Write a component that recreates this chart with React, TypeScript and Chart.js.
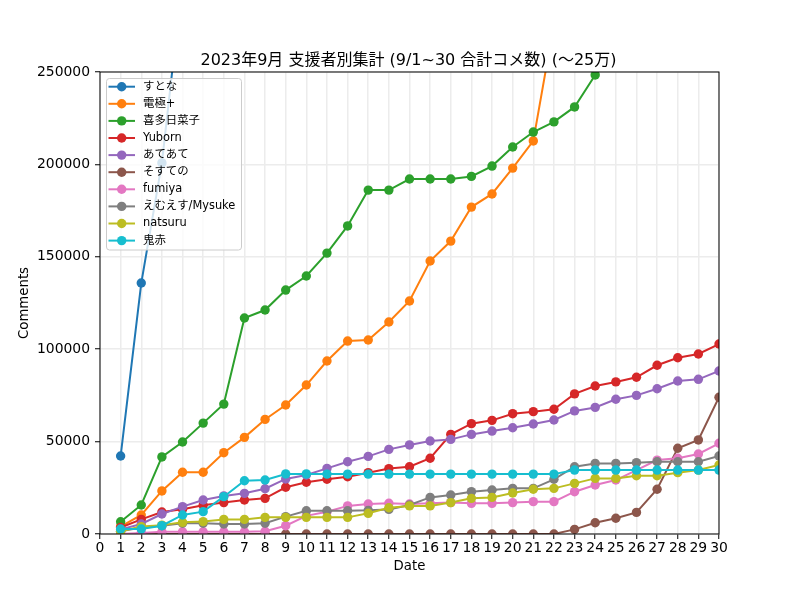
import { useEffect, useRef } from "react";
import { Chart, registerables } from "chart.js";

Chart.register(...registerables);

const FONT = '"DejaVu Sans", "Noto Sans CJK JP", sans-serif';

const chartTitle = "2023年9月 支援者別集計 (9/1~30 合計コメ数) (〜25万)";
const xAxisTitle = "Date";
const yAxisTitle = "Comments";

const days = [1, 2, 3, 4, 5, 6, 7, 8, 9, 10, 11, 12, 13, 14, 15, 16, 17, 18, 19, 20, 21, 22, 23, 24, 25, 26, 27, 28, 29, 30];

const seriesNames = ["すとな", "電極+", "喜多日菜子", "Yuborn", "あてあて", "そすての", "fumiya", "えむえす/Mysuke", "natsuru", "鬼赤"];
const seriesColors = ["#1f77b4", "#ff7f0e", "#2ca02c", "#d62728", "#9467bd", "#8c564b", "#e377c2", "#7f7f7f", "#bcbd22", "#17becf"];

const sutona = [42200, 135800, 200800, 300000, 360000, 420000, 470000, 520000, 570000, 610000, 650000, 690000, 730000, 770000, 800000, 840000, 880000, 910000, 950000, 990000, 1020000, 1060000, 1100000, 1140000, 1170000, 1210000, 1250000, 1290000, 1320000, 1360000];
const denkyoku = [4000, 10300, 23300, 33400, 33400, 44000, 52300, 62000, 69800, 80600, 93600, 104400, 105000, 114700, 126100, 147700, 158500, 176900, 184000, 198000, 212700, 276000, 300000, 320000, 345000, 365000, 385000, 405000, 425000, 445000];
const kita = [6600, 15700, 41700, 49800, 60000, 70300, 116900, 121200, 132000, 139600, 152000, 166700, 186100, 186100, 192100, 192100, 192100, 193500, 199100, 209400, 217500, 223000, 231100, 248400, 265000, 280000, 295000, 310000, 325000, 340000];
const yuborn = [3500, 7900, 11900, 13400, 15500, 17000, 18400, 19300, 25300, 28000, 29600, 31000, 33200, 35400, 36400, 41000, 53900, 59700, 61500, 65100, 66200, 67500, 75800, 80100, 82300, 84800, 91300, 95400, 97400, 102800];
const ateate = [2500, 5400, 10800, 14800, 18400, 20600, 22000, 24500, 29800, 31900, 35500, 39100, 42000, 45800, 48200, 50300, 51200, 53900, 55700, 57500, 59500, 61700, 66600, 68500, 72900, 75000, 78600, 82800, 83700, 88200];
const sosuteno = [0, 0, 0, 0, 0, 0, 0, 0, 0, 0, 0, 0, 0, 0, 0, 0, 0, 0, 0, 0, 0, 0, 2500, 6100, 8500, 11700, 24200, 46400, 50900, 74000];
const fumiya = [0, 600, 1200, 1200, 1200, 1200, 1200, 1500, 4500, 9800, 12000, 15200, 16200, 16600, 16200, 16600, 17000, 16600, 16600, 17000, 17500, 17500, 22900, 26500, 29200, 34600, 40000, 41000, 43300, 49100];
const mysuke = [1500, 3500, 4500, 5800, 5800, 5400, 5400, 5800, 9400, 12600, 12600, 12600, 12800, 13300, 15700, 19800, 21100, 22900, 23800, 24700, 24700, 29600, 36400, 38200, 38200, 38600, 39100, 39100, 39100, 42200];
const natsuru = [1500, 4000, 4800, 6300, 6700, 7900, 7900, 9000, 9000, 9000, 9000, 9000, 11200, 14200, 15200, 15200, 17000, 19300, 19800, 22200, 24200, 24700, 27400, 30100, 30100, 31500, 31500, 33200, 34600, 37300];
const onisaki = [2700, 2700, 4500, 10300, 12100, 20200, 28800, 29200, 32500, 32500, 32400, 32400, 32400, 32400, 32400, 32400, 32400, 32400, 32400, 32400, 32400, 32400, 34600, 34600, 34600, 34600, 34600, 34600, 34600, 34600];

const seriesValues = [sutona, denkyoku, kita, yuborn, ateate, sosuteno, fumiya, mysuke, natsuru, onisaki];

const yTicks = [0, 50000, 100000, 150000, 200000, 250000];

export default function App() {
  const canvasRef = useRef<HTMLCanvasElement>(null);

  useEffect(() => {
    const canvas = canvasRef.current;
    if (!canvas) return;

    const datasets = seriesNames.map((name, i) => ({
      label: name,
      data: days.map((d, j) => ({ x: d, y: seriesValues[i][j] })),
      borderColor: seriesColors[i],
      backgroundColor: seriesColors[i],
      pointBackgroundColor: seriesColors[i],
      pointBorderColor: seriesColors[i],
      pointBorderWidth: 0,
      pointRadius: 4.7,
      pointHoverRadius: 4.7,
      borderWidth: 2,
      tension: 0,
      order: -i,
    }));

    const overlayPlugin = {
      id: "overlay",
      afterDatasetsDraw(chart: any) {
        const { ctx, chartArea: a } = chart;
        ctx.save();
        ctx.strokeStyle = "#000";
        ctx.lineWidth = 1;
        ctx.strokeRect(a.left, a.top, a.right - a.left, a.bottom - a.top);
        ctx.restore();
      },
      afterDraw(chart: any) {
        const { ctx, chartArea: a } = chart;
        ctx.save();
        // title
        ctx.fillStyle = "#000";
        ctx.font = `16px ${FONT}`;
        ctx.textAlign = "center";
        ctx.textBaseline = "alphabetic";
        ctx.fillText(chartTitle, (a.left + a.right) / 2 - 1, 64.5);

        // legend
        const bx = a.left + 6.5;
        const by = a.top + 6.5;
        const bw = 135;
        const bh = 171.5;
        ctx.beginPath();
        ctx.roundRect(bx, by, bw, bh, 3);
        ctx.fillStyle = "rgba(255,255,255,0.8)";
        ctx.fill();
        ctx.strokeStyle = "#cccccc";
        ctx.lineWidth = 1;
        ctx.stroke();

        ctx.font = `11.4px ${FONT}`;
        ctx.textAlign = "left";
        ctx.textBaseline = "middle";
        seriesNames.forEach((name, i) => {
          const cy = a.top + 14.7 + i * 17.1;
          ctx.strokeStyle = seriesColors[i];
          ctx.lineWidth = 2;
          ctx.beginPath();
          ctx.moveTo(a.left + 8.5, cy);
          ctx.lineTo(a.left + 35, cy);
          ctx.stroke();
          ctx.fillStyle = seriesColors[i];
          ctx.beginPath();
          ctx.arc(a.left + 21.7, cy, 4.7, 0, Math.PI * 2);
          ctx.fill();
          ctx.fillStyle = "#000";
          ctx.fillText(name, a.left + 43, cy);
        });
        ctx.restore();
      },
    };

    const chart = new Chart(canvas, {
      type: "line",
      data: { datasets },
      plugins: [overlayPlugin],
      options: {
        animation: false,
        responsive: false,
        events: [],
        layout: { padding: { top: 72, right: 81, bottom: 0, left: 0 } },
        plugins: {
          legend: { display: false },
          title: { display: false },
          tooltip: { enabled: false },
        },
        scales: {
          x: {
            type: "linear",
            min: 0,
            max: 30,
            afterFit: (scale: any) => {
              scale.height = 66;
            },
            afterBuildTicks: (scale: any) => {
              scale.ticks = [0].concat(days).map((d) => ({ value: d }));
            },
            border: { display: false },
            grid: {
              color: "#ececec",
              lineWidth: 1.5,
              drawTicks: true,
              tickLength: 5,
              tickColor: "#000",
              tickWidth: 1,
            },
            ticks: {
              autoSkip: false,
              maxRotation: 0,
              padding: 1,
              color: "#000",
              font: { family: FONT, size: 13.9 },
              callback: (v: any) => String(v),
            },
            title: {
              display: true,
              text: xAxisTitle,
              color: "#000",
              font: { family: FONT, size: 13.3 },
              padding: { top: 0, bottom: 25 },
            },
          },
          y: {
            type: "linear",
            min: 0,
            max: 250000,
            afterFit: (scale: any) => {
              scale.width = 100;
            },
            afterBuildTicks: (scale: any) => {
              scale.ticks = yTicks.map((v) => ({ value: v }));
            },
            border: { display: false },
            grid: {
              color: "#ececec",
              lineWidth: 1.5,
              drawTicks: true,
              tickLength: 5,
              tickColor: "#000",
              tickWidth: 1,
            },
            ticks: {
              padding: 5,
              color: "#000",
              font: { family: FONT, size: 13.9 },
              callback: (v: any) => String(v),
            },
            title: {
              display: true,
              text: yAxisTitle,
              color: "#000",
              font: { family: FONT, size: 13.3 },
              padding: { top: 17, bottom: 0 },
            },
          },
        },
      },
    });

    return () => {
      chart.destroy();
    };
  }, []);

  return (
    <div style={{ position: "absolute", left: 0, top: 0, width: 800, height: 600, background: "#fff" }}>
      <canvas ref={canvasRef} width={800} height={600} style={{ display: "block", width: 800, height: 600 }} />
    </div>
  );
}
